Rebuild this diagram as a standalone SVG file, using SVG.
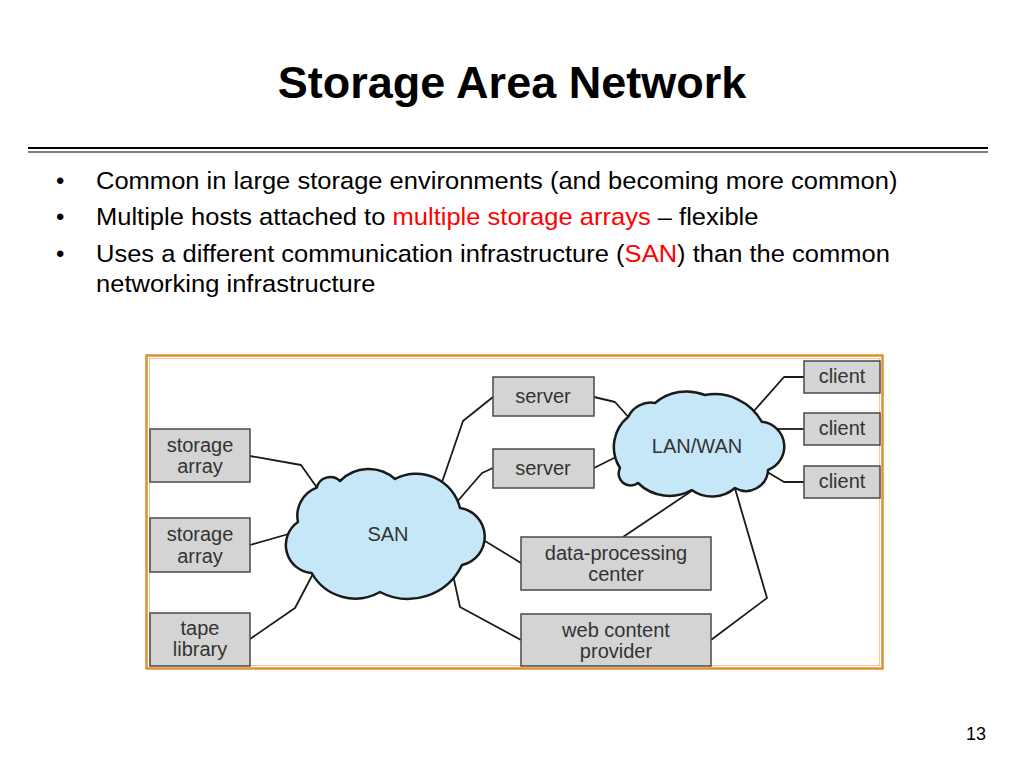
<svg xmlns="http://www.w3.org/2000/svg" width="1024" height="768" viewBox="0 0 1024 768">
<style>
.title{font-family:"Liberation Sans",Arial,sans-serif;font-weight:bold;font-size:45px;fill:#000}
.body{font-family:"Liberation Sans",Arial,sans-serif;font-size:24px;fill:#000}
.red{fill:#ff0000}
.box{fill:#d4d4d4;stroke:#4a4a4a;stroke-width:1.5}
.lbl{font-family:"Liberation Sans",Arial,sans-serif;font-size:20px;fill:#333;text-anchor:middle}
.cloud{fill:#c6e7f8;stroke:#1a1a1a;stroke-width:2.5;stroke-linejoin:round}
.conn{fill:none;stroke:#1a1a1a;stroke-width:1.8;stroke-linejoin:round}
</style>
<rect width="1024" height="768" fill="#fff"/>
<text class="title" x="512" y="98" text-anchor="middle">Storage Area Network</text>
<line x1="28" y1="148" x2="988" y2="148" stroke="#000" stroke-width="2"/>
<line x1="28" y1="152" x2="988" y2="152" stroke="#000" stroke-width="1"/>
<g class="body">
<text x="56" y="189">•</text>
<text x="56" y="225">•</text>
<text x="56" y="262">•</text>
<g transform="translate(96,0) scale(1.064,1) translate(-96,0)">
<text x="96" y="189">Common in large storage environments (and becoming more common)</text>
<text x="96" y="225">Multiple hosts attached to <tspan class="red">multiple storage arrays</tspan> – flexible</text>
<text x="96" y="262">Uses a different communication infrastructure (<tspan class="red">SAN</tspan>) than the common</text>
<text x="96" y="292">networking infrastructure</text>
</g>
</g>
<rect x="146.5" y="355.5" width="736" height="313" fill="#fff" stroke="#e0902e" stroke-width="2.5"/>
<rect x="149.5" y="358.5" width="730" height="307" fill="none" stroke="#f3c888" stroke-width="1"/>
<g id="connectors">
<polyline class="conn" points="250,456 301,465 320,492"/>
<polyline class="conn" points="250,545 292,533"/>
<polyline class="conn" points="250,639 295,608 315,570"/>
<polyline class="conn" points="493,397 463,421 440,488"/>
<polyline class="conn" points="493,468 482,473 456,503"/>
<polyline class="conn" points="485,541 521,563"/>
<polyline class="conn" points="453,575 460,607 521,640"/>
<polyline class="conn" points="594,397 615,402 632,421"/>
<polyline class="conn" points="594,468 620,455"/>
<polyline class="conn" points="804,377 784,377 753,412"/>
<polyline class="conn" points="804,429 772,429"/>
<polyline class="conn" points="804,482 784,482 764,470"/>
<polyline class="conn" points="696,488 623,537"/>
<polyline class="conn" points="734,485 767,598 711,640"/>
</g>
<g id="san">
<path class="cloud" d="M311.7,573 A28,28 0 0 1 298,522 A30,30 0 0 1 316.7,487.7 A14,14 0 0 1 340,481 A40,40 0 0 1 395,479 A45,45 0 0 1 460,508 A29,29 0 0 1 462,565 A60,60 0 0 1 380,592 A50,50 0 0 1 311.7,573 Z"/>
<text class="lbl" x="388" y="541">SAN</text>
</g>
<g id="lanwan">
<path class="cloud" d="M628.3,416.7 A39,39 0 0 0 620,468 A12,12 0 0 0 638,483 A45,45 0 0 0 691.7,490 A35,35 0 0 0 735,488 A22,22 0 0 0 768,470 A25,25 0 0 0 761.7,421.7 A54,54 0 0 0 705,395 A49,49 0 0 0 655,403 A25,25 0 0 0 628.3,416.7 Z"/>
<text class="lbl" x="697" y="453">LAN/WAN</text>
</g>
<g id="storage1"><rect class="box" x="150" y="429" width="100" height="53"/><text class="lbl" x="200" y="452">storage</text><text class="lbl" x="200" y="473">array</text></g>
<g id="storage2"><rect class="box" x="150" y="518" width="100" height="54"/><text class="lbl" x="200" y="541">storage</text><text class="lbl" x="200" y="563">array</text></g>
<g id="tape"><rect class="box" x="150" y="613" width="100" height="53"/><text class="lbl" x="200" y="635">tape</text><text class="lbl" x="200" y="656">library</text></g>
<g id="server1"><rect class="box" x="493" y="377" width="101" height="39"/><text class="lbl" x="543" y="403">server</text></g>
<g id="server2"><rect class="box" x="493" y="449" width="101" height="39"/><text class="lbl" x="543" y="475">server</text></g>
<g id="dpc"><rect class="box" x="521" y="537" width="190" height="53"/><text class="lbl" x="616" y="560">data-processing</text><text class="lbl" x="616" y="581">center</text></g>
<g id="web"><rect class="box" x="521" y="614" width="190" height="52"/><text class="lbl" x="616" y="637">web content</text><text class="lbl" x="616" y="658">provider</text></g>
<g id="client1"><rect class="box" x="804" y="361" width="76" height="32"/><text class="lbl" x="842" y="383">client</text></g>
<g id="client2"><rect class="box" x="804" y="413" width="76" height="32"/><text class="lbl" x="842" y="435">client</text></g>
<g id="client3"><rect class="box" x="804" y="466" width="76" height="32"/><text class="lbl" x="842" y="488">client</text></g>
<text x="976" y="740" font-family="Liberation Sans,Arial,sans-serif" font-size="18" text-anchor="middle">13</text>
</svg>
